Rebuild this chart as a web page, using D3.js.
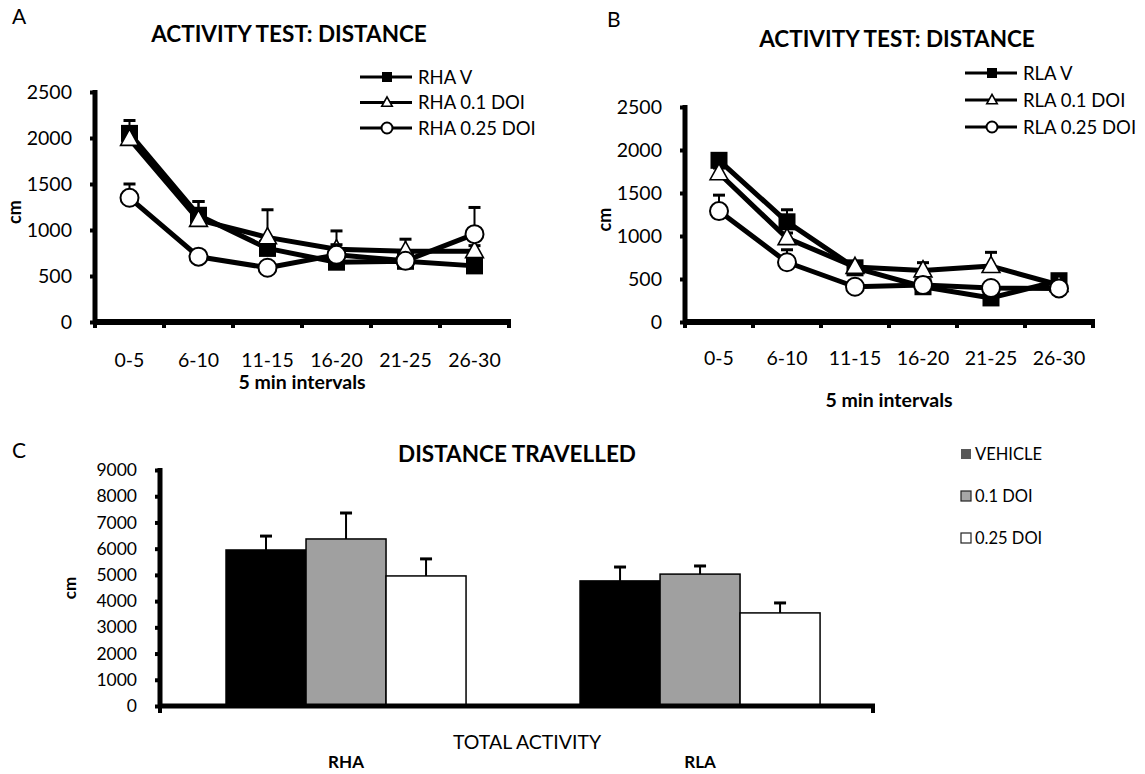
<!DOCTYPE html>
<html>
<head>
<meta charset="utf-8">
<script src="https://cdnjs.cloudflare.com/ajax/libs/d3/7.8.5/d3.min.js"></script>
<style>
  html, body { margin: 0; padding: 0; background: #fff; }
  svg { display: block; font-family: Lato, "Open Sans", sans-serif; }
</style>
</head>
<body>
<svg id="fig" width="1145" height="774"></svg>
<script>
// ---- data ----
const intervals = ["0-5", "6-10", "11-15", "16-20", "21-25", "26-30"];
const distTicks = [0, 500, 1000, 1500, 2000, 2500];

// RHA rats, distance (cm) per 5-min interval, mean and SEM
const rhaV       = [2050, 1160, 800, 650, 660, 610];
const rhaVErr    = [140, 150, 60, 60, 60, 40];
const rha01      = [1990, 1110, 920, 790, 770, 770];
const rha01Err   = [120, 200, 300, 200, 130, 60];
const rha025     = [1350, 710, 590, 730, 665, 955];
const rha025Err  = [150, 40, 40, 110, 40, 290];

// RLA rats
const rlaV       = [1880, 1165, 630, 410, 280, 480];
const rlaVErr    = [60, 140, 40, 40, 60, 40];
const rla01      = [1730, 975, 640, 600, 650, 430];
const rla01Err   = [60, 60, 60, 90, 160, 40];
const rla025     = [1290, 695, 410, 430, 395, 390];
const rla025Err  = [185, 145, 40, 40, 40, 40];

// total distance travelled (cm)
const strains      = ["RHA", "RLA"];
const treatments   = ["VEHICLE", "0.1 DOI", "0.25 DOI"];
const totalVeh     = [5950, 4770];
const totalVehErr  = [530, 530];
const total01      = [6370, 5030];
const total01Err   = [990, 310];
const total025     = [4960, 3550];
const total025Err  = [650, 380];
const totalTicks   = [0, 1000, 2000, 3000, 4000, 5000, 6000, 7000, 8000, 9000];

const svg = d3.select("#fig");
const FONT = "Lato, 'Open Sans', sans-serif";

// ---- marker helpers ----
function drawMarker(g, kind, x, y, size) {
  if (kind === "square") {
    g.append("rect").attr("x", x - size / 2).attr("y", y - size / 2)
      .attr("width", size).attr("height", size).attr("fill", "#000");
  } else if (kind === "triangle") {
    const h = size * 0.95, w = size * 1.05;
    g.append("path")
      .attr("d", `M${x},${y - h * 0.6} L${x + w / 2},${y + h * 0.4} L${x - w / 2},${y + h * 0.4} Z`)
      .attr("fill", "#fff").attr("stroke", "#000").attr("stroke-width", 1.6)
      .attr("stroke-linejoin", "miter");
  } else {
    g.append("circle").attr("cx", x).attr("cy", y).attr("r", size / 2)
      .attr("fill", "#fff").attr("stroke", "#000").attr("stroke-width", 2);
  }
}

// ---- line panel (A / B) ----
function linePanel(cfg) {
  const g = svg.append("g");
  const x = d3.scaleBand().domain(intervals).range([cfg.x0, cfg.x1]);
  const y = d3.scaleLinear().domain([0, 2500]).range([cfg.y0, cfg.y1]);

  // panel letter + title
  g.append("text").attr("x", cfg.letterX).attr("y", cfg.letterY)
    .attr("font-size", 21).text(cfg.letter);
  g.append("text").attr("x", cfg.titleX).attr("y", cfg.titleY)
    .attr("text-anchor", "middle").attr("font-size", 22.5).attr("font-weight", "bold")
    .text("ACTIVITY TEST: DISTANCE");

  // y axis
  const yAxis = g.append("g").attr("transform", `translate(${cfg.x0},0)`)
    .call(d3.axisLeft(y).tickValues(distTicks).tickFormat(d3.format("d")).tickSize(5).tickPadding(18));
  yAxis.select(".domain").remove();
  yAxis.selectAll(".tick line").attr("stroke-width", 4);
  yAxis.selectAll(".tick text").attr("font-size", 19.5).attr("font-family", FONT).attr("fill", "#000");
  g.append("line").attr("x1", cfg.x0).attr("x2", cfg.x0)
    .attr("y1", y(2500) - 2).attr("y2", y(0) + 2).attr("stroke", "#000").attr("stroke-width", 5);

  // x axis: ticks between categories, labels centred
  const bounds = intervals.map(d => x(d)).concat([cfg.x1]);
  g.selectAll(".xt").data(bounds).join("line")
    .attr("x1", d => d).attr("x2", d => d)
    .attr("y1", y(0)).attr("y2", y(0) + 6).attr("stroke", "#000").attr("stroke-width", 4);
  g.append("line").attr("x1", cfg.x0 - 2).attr("x2", cfg.x1 + 2)
    .attr("y1", y(0)).attr("y2", y(0)).attr("stroke", "#000").attr("stroke-width", 6);
  g.selectAll(".xl").data(intervals).join("text")
    .attr("x", d => x(d) + x.bandwidth() / 2).attr("y", cfg.catY)
    .attr("text-anchor", "middle").attr("font-size", 19.5).text(d => d);
  g.append("text").attr("x", (cfg.x0 + cfg.x1) / 2).attr("y", cfg.xTitleY)
    .attr("text-anchor", "middle").attr("font-size", 19.5).attr("font-weight", "bold")
    .text("5 min intervals");
  g.append("text")
    .attr("transform", `translate(${cfg.cmX},${(y(0) + y(2500)) / 2 + 5}) rotate(-90)`)
    .attr("text-anchor", "middle").attr("font-size", 18).attr("font-weight", "bold").text("cm");

  // series: error bars, line, markers
  const cx = d => x(d) + x.bandwidth() / 2;
  cfg.series.forEach(s => {
    const sg = g.append("g");
    s.values.forEach((v, i) => {
      const xx = cx(intervals[i]);
      const top = y(v + s.err[i]);
      sg.append("line").attr("x1", xx).attr("x2", xx).attr("y1", y(v)).attr("y2", top)
        .attr("stroke", "#000").attr("stroke-width", 2);
      sg.append("line").attr("x1", xx - 6).attr("x2", xx + 6).attr("y1", top).attr("y2", top)
        .attr("stroke", "#000").attr("stroke-width", 3);
    });
    const line = d3.line().x((d, i) => cx(intervals[i])).y(d => y(d));
    sg.append("path").datum(s.values).attr("d", line)
      .attr("fill", "none").attr("stroke", "#000").attr("stroke-width", 5)
      .attr("stroke-linejoin", "round");
    s.values.forEach((v, i) => drawMarker(sg, s.marker, cx(intervals[i]), y(v), s.marker === "circle" ? 18 : 17));
  });

  // legend
  cfg.series.forEach((s, i) => {
    const ly = cfg.legY + i * cfg.legStep;
    g.append("line").attr("x1", cfg.legX).attr("x2", cfg.legX + 52)
      .attr("y1", ly).attr("y2", ly).attr("stroke", "#000").attr("stroke-width", 3);
    drawMarker(g, s.marker, cfg.legX + 27, ly, s.marker === "circle" ? 11 : 10);
    g.append("text").attr("x", cfg.legX + 58).attr("y", ly + 6.5)
      .attr("font-size", 18.5).text(s.name);
  });
}

linePanel({
  letter: "A", letterX: 12, letterY: 24,
  titleX: 289, titleY: 42,
  x0: 95, x1: 509, y0: 322, y1: 92,
  catY: 367, xTitleY: 389, cmX: 21,
  legX: 360, legY: 77, legStep: 25.5,
  series: [
    { name: "RHA V", marker: "square", values: rhaV, err: rhaVErr },
    { name: "RHA 0.1 DOI", marker: "triangle", values: rha01, err: rha01Err },
    { name: "RHA 0.25 DOI", marker: "circle", values: rha025, err: rha025Err }
  ]
});

linePanel({
  letter: "B", letterX: 607, letterY: 27,
  titleX: 897, titleY: 47,
  x0: 685, x1: 1093, y0: 322, y1: 107,
  catY: 365, xTitleY: 407, cmX: 611,
  legX: 965, legY: 73, legStep: 27,
  series: [
    { name: "RLA V", marker: "square", values: rlaV, err: rlaVErr },
    { name: "RLA 0.1 DOI", marker: "triangle", values: rla01, err: rla01Err },
    { name: "RLA 0.25 DOI", marker: "circle", values: rla025, err: rla025Err }
  ]
});

// ---- bar panel (C) ----
(function () {
  const g = svg.append("g");
  const X0 = 160, X1 = 873, Y0 = 706, Y1 = 470;
  const x = d3.scaleBand().domain(strains).range([X0, X1])
    .paddingInner(0.322).paddingOuter(0.168).align(0.555);
  const xi = d3.scaleBand().domain(treatments).range([0, x.bandwidth()]);
  const y = d3.scaleLinear().domain([0, 9000]).range([Y0, Y1]);
  const fills = ["#000000", "#a0a0a0", "#ffffff"];
  const means = [totalVeh, total01, total025];
  const errs = [totalVehErr, total01Err, total025Err];

  g.append("text").attr("x", 12).attr("y", 458).attr("font-size", 21).text("C");
  g.append("text").attr("x", 517).attr("y", 462).attr("text-anchor", "middle")
    .attr("font-size", 22.5).attr("font-weight", "bold").text("DISTANCE TRAVELLED");

  const yAxis = g.append("g").attr("transform", `translate(${X0},0)`)
    .call(d3.axisLeft(y).tickValues(totalTicks).tickFormat(d3.format("d")).tickSize(5).tickPadding(18));
  yAxis.select(".domain").remove();
  yAxis.selectAll(".tick line").attr("stroke-width", 4);
  yAxis.selectAll(".tick text").attr("font-size", 17.5).attr("font-family", FONT).attr("fill", "#000");

  strains.forEach((st, si) => {
    treatments.forEach((tr, ti) => {
      const bx = x(st) + xi(tr);
      const v = means[ti][si];
      g.append("rect").attr("x", bx).attr("y", y(v))
        .attr("width", xi.bandwidth()).attr("height", y(0) - y(v))
        .attr("fill", fills[ti]).attr("stroke", "#000").attr("stroke-width", 1.5);
      const cxp = bx + xi.bandwidth() / 2, top = y(v + errs[ti][si]);
      g.append("line").attr("x1", cxp).attr("x2", cxp).attr("y1", y(v)).attr("y2", top)
        .attr("stroke", "#000").attr("stroke-width", 2);
      g.append("line").attr("x1", cxp - 6).attr("x2", cxp + 6).attr("y1", top).attr("y2", top)
        .attr("stroke", "#000").attr("stroke-width", 3);
    });
    g.append("text").attr("x", x(st) + x.bandwidth() / 2).attr("y", 768)
      .attr("text-anchor", "middle").attr("font-size", 17).attr("font-weight", "bold").text(st);
  });

  g.append("line").attr("x1", X0).attr("x2", X0).attr("y1", y(9000) - 2).attr("y2", y(0) + 2)
    .attr("stroke", "#000").attr("stroke-width", 5);
  g.append("line").attr("x1", X0 - 2).attr("x2", X1 + 2).attr("y1", y(0)).attr("y2", y(0))
    .attr("stroke", "#000").attr("stroke-width", 5);
  [X0, X1].forEach(t => g.append("line").attr("x1", t).attr("x2", t)
    .attr("y1", y(0)).attr("y2", y(0) + 7).attr("stroke", "#000").attr("stroke-width", 4));

  g.append("text").attr("x", 527).attr("y", 749).attr("text-anchor", "middle")
    .attr("font-size", 19.5).text("TOTAL ACTIVITY");
  g.append("text").attr("transform", `translate(76,${(y(0) + y(9000)) / 2}) rotate(-90)`)
    .attr("text-anchor", "middle").attr("font-size", 17).attr("font-weight", "bold").text("cm");

  // legend
  const legFills = ["#595959", "#a6a6a6", "#ffffff"];
  treatments.forEach((tr, i) => {
    const ly = 454 + i * 42;
    g.append("rect").attr("x", 961).attr("y", ly - 5).attr("width", 10).attr("height", 10)
      .attr("fill", legFills[i]).attr("stroke", i === 0 ? "none" : "#222").attr("stroke-width", 1.2);
    g.append("text").attr("x", 975).attr("y", ly + 6).attr("font-size", 16.5).text(tr);
  });
})();
</script>
</body>
</html>
